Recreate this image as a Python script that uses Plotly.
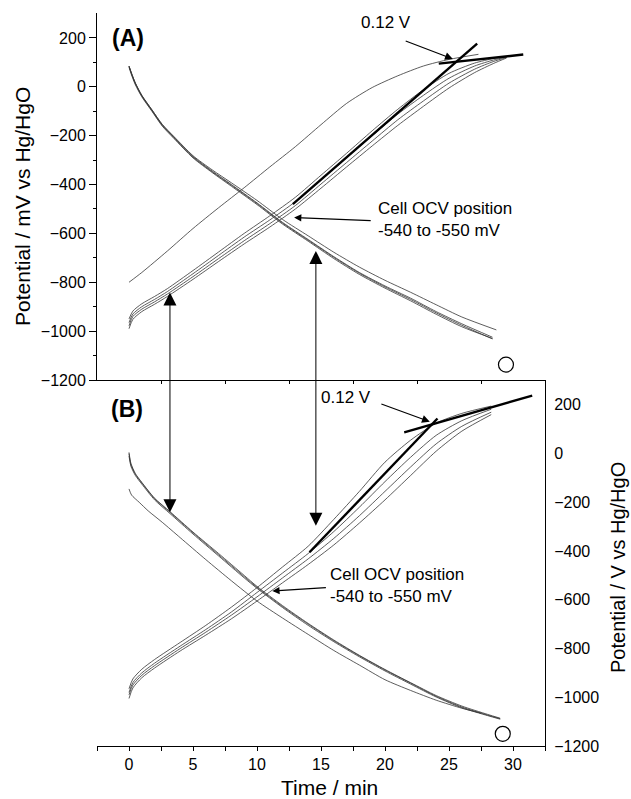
import plotly.graph_objects as go

# ---------------- Panel (A) data: time / min, potential / mV ----------------
a_dn_t = [0, 0.2, 0.5, 1, 1.8, 2.6, 3.5, 5, 6.5, 8, 10, 12, 14, 16, 18, 20, 22, 24, 26, 28.4]
a_dn_1 = [85, 55, 15, -35, -95, -155, -205, -285, -345, -400, -475, -555, -625, -695, -760, -815, -865, -920, -970, -1025]
a_dn_2 = [83, 52, 12, -38, -98, -158, -208, -288, -348, -403, -478, -558, -628, -698, -763, -819, -870, -925, -976, -1032]
a_dn_3 = [80, 48, 8, -41, -101, -161, -211, -291, -351, -407, -482, -562, -632, -703, -768, -824, -876, -931, -982, -1030]
a_dn4_t = [0, 0.2, 0.5, 1, 1.8, 2.6, 3.5, 5, 6.5, 8, 10, 12, 14, 16, 18, 20, 22, 24, 26, 28.7]
a_dn_4 = [85, 55, 15, -35, -95, -154, -203, -282, -340, -393, -465, -543, -610, -677, -738, -792, -841, -892, -942, -995]

a_up_t = [0, 0.3, 1, 2, 3, 5, 7, 9, 11, 13, 15, 17, 19, 21, 23, 25, 27, 28.5, 29.5]
a_up_1 = [-950, -918, -888, -858, -826, -752, -676, -600, -528, -452, -362, -272, -180, -92, -12, 55, 97, 116, 124]
a_up_2 = [-965, -930, -900, -870, -838, -765, -690, -615, -545, -470, -380, -290, -200, -112, -35, 35, 85, 110, 122]
a_up_3 = [-978, -940, -910, -880, -848, -777, -703, -630, -560, -486, -398, -310, -222, -135, -58, 15, 72, 104, 120]
a_up_4 = [-990, -952, -920, -890, -858, -788, -715, -643, -574, -500, -415, -328, -242, -158, -80, -5, 58, 96, 118]

a_out_t = [0, 1, 3, 5, 7, 9, 11, 13, 15, 17, 19, 21, 23, 25, 27.3]
a_out_v = [-800, -760, -672, -580, -495, -413, -328, -245, -155, -68, -3, 45, 85, 112, 133]

a_tan1_t = [12.8, 27.2]
a_tan1_v = [-480, 177]
a_tan2_t = [24.2, 30.8]
a_tan2_v = [95, 132]
a_circ_t = [29.45]
a_circ_v = [-1137]

# ---------------- Panel (B) data ----------------
b_dn_t = [0, 0.15, 0.5, 1, 2, 3.2, 5, 7, 9, 10, 12, 14, 16, 18, 20, 22, 24, 26, 28, 29]
b_dn_1 = [0, -45, -85, -120, -185, -241, -325, -415, -505, -549, -628, -700, -768, -830, -888, -942, -996, -1040, -1073, -1088]
b_dn_2 = [5, -40, -82, -118, -183, -238, -322, -410, -500, -545, -624, -697, -765, -828, -886, -940, -993, -1036, -1070, -1086]
b_dn_3 = [-10, -52, -90, -125, -190, -246, -330, -420, -510, -553, -632, -705, -772, -834, -892, -946, -999, -1043, -1075, -1090]
b_dn4_t = [0, 0.2, 0.8, 1.5, 2.6, 4, 6, 8, 10, 12, 14, 16, 18, 20, 22, 24, 26, 27.5]
b_dn_4 = [-145, -170, -200, -235, -282, -345, -435, -522, -605, -675, -742, -808, -868, -928, -972, -1012, -1045, -1065]

b_up_t = [0, 0.3, 1, 2, 4, 6, 8, 10, 12, 14, 16, 18, 20, 22, 24, 26, 28.3]
b_up_1 = [-965, -925, -885, -845, -775, -705, -630, -550, -465, -380, -270, -155, -35, 55, 125, 165, 195]
b_up_2 = [-980, -940, -900, -860, -790, -722, -650, -570, -490, -410, -320, -220, -115, -15, 75, 135, 182]
b_up_3 = [-990, -950, -910, -870, -800, -733, -663, -588, -510, -432, -348, -255, -155, -55, 40, 112, 170]
b_up_4 = [-1005, -962, -920, -880, -810, -745, -678, -605, -530, -455, -375, -285, -190, -90, 10, 92, 160]

b_tan1_t = [14.1, 24.1]
b_tan1_v = [-405, 144]
b_tan2_t = [21.5, 31.5]
b_tan2_v = [87, 238]
b_circ_t = [29.2]
b_circ_v = [-1150]

x_major = [0, 5, 10, 15, 20, 25, 30]
x_odd = [2.5, 7.5, 12.5, 17.5, 22.5, 27.5]
y_major = [-1200, -1000, -800, -600, -400, -200, 0, 200]
y_odd = [-1100, -900, -700, -500, -300, -100, 100]

X_RANGE = [-2.5, 32.5]
Y_RANGE = [-1200, 302]
FONT = "Liberation Sans, Arial, Helvetica, sans-serif"
THIN = dict(color="#333333", width=0.8)
THICK = dict(color="black", width=2.4)

fig = go.Figure()


def add_curve(t, v, xa, ya, line, spline=True):
    style = dict(line, shape="spline", smoothing=0.7) if spline else dict(line)
    fig.add_trace(go.Scatter(x=t, y=v, xaxis=xa, yaxis=ya, mode="lines", line=style,
                             showlegend=False, hoverinfo="skip"))


# panel A (top): x2 / y
for v in (a_dn_1, a_dn_2, a_dn_3):
    add_curve(a_dn_t, v, "x2", "y", THIN)
add_curve(a_dn4_t, a_dn_4, "x2", "y", THIN)
for v in (a_up_1, a_up_2, a_up_3, a_up_4):
    add_curve(a_up_t, v, "x2", "y", THIN)
add_curve(a_out_t, a_out_v, "x2", "y", THIN)
add_curve(a_tan1_t, a_tan1_v, "x2", "y", THICK, spline=False)
add_curve(a_tan2_t, a_tan2_v, "x2", "y", THICK, spline=False)
fig.add_trace(go.Scatter(x=a_circ_t, y=a_circ_v, xaxis="x2", yaxis="y", mode="markers",
                         marker=dict(symbol="circle-open", size=15, color="black", line=dict(width=1.2)),
                         showlegend=False, hoverinfo="skip"))

# panel B (bottom): x / y2
for v in (b_dn_1, b_dn_2, b_dn_3):
    add_curve(b_dn_t, v, "x", "y2", THIN)
add_curve(b_dn4_t, b_dn_4, "x", "y2", THIN)
for v in (b_up_1, b_up_2, b_up_3, b_up_4):
    add_curve(b_up_t, v, "x", "y2", THIN)
add_curve(b_tan1_t, b_tan1_v, "x", "y2", THICK, spline=False)
add_curve(b_tan2_t, b_tan2_v, "x", "y2", THICK, spline=False)
fig.add_trace(go.Scatter(x=b_circ_t, y=b_circ_v, xaxis="x", yaxis="y2", mode="markers",
                         marker=dict(symbol="circle-open", size=15, color="black", line=dict(width=1.2)),
                         showlegend=False, hoverinfo="skip"))

SPLIT = 0.4993
tickfont = dict(family=FONT, size=16, color="black")
common_line = dict(showline=True, linecolor="black", linewidth=1, showgrid=False, zeroline=False)

fig.update_layout(
    width=631, height=799,
    margin=dict(l=97, r=86, t=13, b=53),
    paper_bgcolor="white", plot_bgcolor="white",
    font=dict(family=FONT, color="black"),
    # bottom panel x-axis with labels
    xaxis=dict(domain=[0, 1], anchor="y2", range=X_RANGE, tickvals=x_major,
               ticks="outside", ticklen=4, tickwidth=1, tickcolor="black",
               minor=dict(tickvals=[-2.5] + x_odd + [32.5], ticks="outside", ticklen=4, tickcolor="black"),
               tickfont=tickfont, **common_line),
    # top panel bottom edge
    xaxis2=dict(domain=[0, 1], anchor="y", range=X_RANGE, tickvals=x_odd,
                ticks="outside", ticklen=3, tickcolor="black", showticklabels=False, **common_line),
    # top panel top edge
    xaxis3=dict(overlaying="x2", anchor="y", side="top", range=X_RANGE, tickvals=x_odd,
                ticks="inside", ticklen=3, tickcolor="black", showticklabels=False, **common_line),
    # top panel left axis
    yaxis=dict(domain=[SPLIT, 1], anchor="x2", range=Y_RANGE, tickvals=y_major,
               ticks="outside", ticklen=7, tickcolor="black",
               minor=dict(tickvals=y_odd, ticks="outside", ticklen=3, tickcolor="black"),
               tickfont=tickfont, **common_line),
    # bottom panel right axis with labels
    yaxis2=dict(domain=[0, SPLIT], anchor="x", side="right", range=Y_RANGE, tickvals=y_major,
                ticks="outside", ticklen=5, tickcolor="rgba(0,0,0,0)",
                tickfont=tickfont, **common_line),
    # top panel right edge
    yaxis3=dict(overlaying="y", anchor="x2", side="right", range=Y_RANGE, tickvals=y_odd,
                ticks="inside", ticklen=3, tickcolor="black", showticklabels=False, **common_line),
    # bottom panel left edge
    yaxis4=dict(overlaying="y2", anchor="x", side="left", range=Y_RANGE, tickvals=y_major,
                ticks="outside", ticklen=7, tickcolor="black", showticklabels=False,
                minor=dict(tickvals=y_odd, ticks="outside", ticklen=3, tickcolor="black"),
                **common_line),
    # bottom panel right edge ticks
    yaxis5=dict(overlaying="y2", anchor="x", side="right", range=Y_RANGE, tickvals=y_odd,
                ticks="inside", ticklen=3, tickcolor="black", showticklabels=False, **common_line),
)

ann = []
txt = dict(family=FONT, size=17, color="black")
# panel labels
lab_font = dict(family=FONT, size=23, color="black")
ann.append(dict(xref="x2", yref="y", x=-1.5, y=200, text="<b>(A)</b>", showarrow=False,
                xanchor="left", yanchor="middle", font=lab_font))
ann.append(dict(xref="x", yref="y2", x=-1.6, y=185, text="<b>(B)</b>", showarrow=False,
                xanchor="left", yanchor="middle", font=lab_font))
# 0.12 V labels and arrows
ann.append(dict(xref="x2", yref="y", x=20.1, y=264, text="0.12 V", showarrow=False, font=txt))
ann.append(dict(xref="x2", yref="y", x=25.3, y=114, axref="x2", ayref="y", ax=21.5, ay=190, text="",
                showarrow=True, arrowhead=2, arrowsize=1.3, arrowwidth=1.2, arrowcolor="black"))
ann.append(dict(xref="x", yref="y2", x=16.95, y=231, text="0.12 V", showarrow=False, font=txt))
ann.append(dict(xref="x", yref="y2", x=23.5, y=131, axref="x", ayref="y2", ax=19.6, ay=206, text="",
                showarrow=True, arrowhead=2, arrowsize=1.3, arrowwidth=1.2, arrowcolor="black"))
# Cell OCV
ann.append(dict(xref="x2", yref="y", x=19.3, y=-542, text="Cell OCV position<br>-540 to -550 mV",
                showarrow=False, xanchor="left", yanchor="middle", align="left", font=txt))
ann.append(dict(xref="x2", yref="y", x=12.9, y=-535, axref="x2", ayref="y", ax=19.0, ay=-548, text="",
                showarrow=True, arrowhead=2, arrowsize=1.2, arrowwidth=1.2, arrowcolor="black"))
ann.append(dict(xref="x", yref="y2", x=15.55, y=-542, text="Cell OCV position<br>-540 to -550 mV",
                showarrow=False, xanchor="left", yanchor="middle", align="left", font=txt))
ann.append(dict(xref="x", yref="y2", x=11.2, y=-564, axref="x", ayref="y2", ax=15.5, ay=-550, text="",
                showarrow=True, arrowhead=2, arrowsize=1.2, arrowwidth=1.2, arrowcolor="black"))
# vertical double arrows spanning both panels
ann.append(dict(xref="x", yref="y2", x=3.2, y=-241, axref="x", ayref="y2", ax=3.2, ay=667, text="",
                showarrow=True, arrowhead=2, startarrowhead=2, arrowside="end+start",
                arrowsize=2.6, startarrowsize=2.6, arrowwidth=1, arrowcolor="black"))
ann.append(dict(xref="x", yref="y2", x=14.6, y=-296, axref="x", ayref="y2", ax=14.6, ay=838, text="",
                showarrow=True, arrowhead=2, startarrowhead=2, arrowside="end+start",
                arrowsize=2.6, startarrowsize=2.6, arrowwidth=1, arrowcolor="black"))
# axis titles
title_font = dict(family=FONT, size=21, color="black")
ann.append(dict(xref="paper", yref="paper", x=(22 - 97) / 448, y=(746 - 207) / 733,
                text="Potential / mV vs Hg/HgO", textangle=-90, showarrow=False,
                xanchor="center", yanchor="middle", font=title_font))
ann.append(dict(xref="paper", yref="paper", x=(618 - 97) / 448, y=(746 - 568) / 733,
                text="Potential / V vs Hg/HgO", textangle=-90, showarrow=False,
                xanchor="center", yanchor="middle", font=dict(family=FONT, size=20, color="black")))
ann.append(dict(xref="paper", yref="paper", x=(329 - 97) / 448, y=(746 - 787) / 733,
                text="Time / min", showarrow=False, xanchor="center", yanchor="middle", font=title_font))
fig.update_layout(annotations=ann)

fig.write_html("out.html")
